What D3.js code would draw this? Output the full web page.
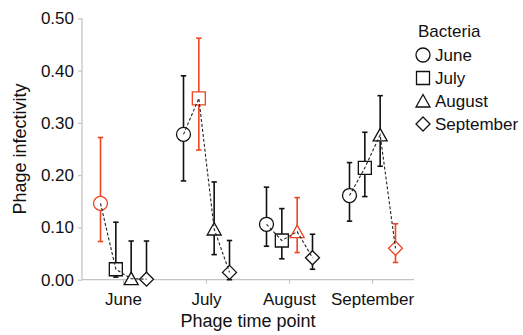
<!DOCTYPE html>
<html>
<head>
<meta charset="utf-8">
<script src="https://cdn.jsdelivr.net/npm/d3@7"></script>
<style>
  body { margin: 0; background: #fff; }
  svg text { font-family: "Liberation Sans", Arial, sans-serif; fill: #111; }
</style>
</head>
<body>
<div id="chart"></div>
<script>
// phage time points (x groups) and bacteria (series within a group)
var phageMonths = ["June", "July", "August", "September"];
var bacteria = ["June", "July", "August", "September"];
var yTicks = [0, 0.1, 0.2, 0.3, 0.4, 0.5];

// rows = phage time point, columns = bacteria
var meanValues = [
    [0.146, 0.020, 0.002, 0.001],
    [0.278, 0.347, 0.097, 0.014],
    [0.106, 0.075, 0.092, 0.042],
    [0.161, 0.214, 0.277, 0.060]
];
var upperValues = [
    [0.272, 0.110, 0.074, 0.074],
    [0.390, 0.462, 0.187, 0.075],
    [0.177, 0.136, 0.157, 0.087],
    [0.224, 0.282, 0.352, 0.107]
];
var lowerValues = [
    [0.073, 0.005, 0.000, 0.000],
    [0.189, 0.248, 0.048, 0.000],
    [0.064, 0.040, 0.052, 0.020],
    [0.112, 0.159, 0.217, 0.033]
];

function chart() {
    var w = 523, h = 335;
    var left = 82, right = 414, top = 18.3, bottom = 279.7;
    var red = "#ee4422", axisGrey = "#c4c4c4";

    var svg = d3.select("#chart").append("svg").attr("width", w).attr("height", h);

    var xScale = d3.scaleBand().domain(phageMonths).range([left, right]);
    var offset = d3.scalePoint().domain(bacteria).range([-23, 23]);
    var yScale = d3.scaleLinear().domain([0, 0.5]).range([bottom, top]);

    // marker shapes, centred on 0,0
    function shape(name) {
        if (name == "June") return "M7,0A7,7 0 1,1 -7,0A7,7 0 1,1 7,0Z";
        if (name == "July") return "M-6.5,-6.5H6.5V6.5H-6.5Z";
        if (name == "August") return "M0,-6.5L7,6L-7,6Z";
        return "M0,-7L7,0L0,7L-7,0Z";
    }

    // axes
    var yAxis = d3.axisLeft(yScale).tickValues(yTicks).tickSize(4).tickPadding(4)
        .tickFormat(d3.format(".2f"));
    var gy = svg.append("g").attr("transform", "translate(" + left + ",0)").call(yAxis);
    var xAxis = d3.axisBottom(xScale).tickSize(4).tickPadding(9);
    var gx = svg.append("g").attr("transform", "translate(0," + bottom + ")").call(xAxis);

    svg.selectAll(".domain").attr("stroke", axisGrey).attr("stroke-width", 1.3);
    svg.selectAll(".tick line").attr("stroke", axisGrey).attr("stroke-width", 1.2);
    svg.selectAll(".tick text").attr("font-size", "17px").attr("fill", "#111")
        .attr("font-family", "Liberation Sans, Arial, sans-serif");
    gx.select(".domain").attr("d", "M" + left + ",0H" + right);
    gy.select(".domain").attr("d", "M0," + top + "V" + bottom);

    // flatten data
    var points = [];
    for (var i = 0; i < phageMonths.length; i++) {
        for (var j = 0; j < bacteria.length; j++) {
            points.push({
                phage: phageMonths[i], bact: bacteria[j],
                mean: meanValues[i][j], hi: upperValues[i][j], lo: lowerValues[i][j],
                col: i == j ? red : "#111"
            });
        }
    }
    function px(d) { return xScale(d.phage) + xScale.bandwidth() / 2 + offset(d.bact); }

    // error bars
    var eb = svg.append("g").selectAll("g").data(points).enter().append("g")
        .attr("stroke", function (d) { return d.col; })
        .attr("stroke-width", 1.6);
    eb.append("line")
        .attr("x1", px).attr("x2", px)
        .attr("y1", function (d) { return yScale(d.hi); })
        .attr("y2", function (d) { return yScale(d.lo); });
    eb.append("line")
        .attr("x1", function (d) { return px(d) - 2.7; })
        .attr("x2", function (d) { return px(d) + 2.7; })
        .attr("y1", function (d) { return yScale(d.hi); })
        .attr("y2", function (d) { return yScale(d.hi); });
    eb.append("line")
        .attr("x1", function (d) { return px(d) - 2.7; })
        .attr("x2", function (d) { return px(d) + 2.7; })
        .attr("y1", function (d) { return yScale(d.lo); })
        .attr("y2", function (d) { return yScale(d.lo); });

    // markers
    svg.append("g").selectAll("path").data(points).enter().append("path")
        .attr("d", function (d) { return shape(d.bact); })
        .attr("transform", function (d) { return "translate(" + px(d) + "," + yScale(d.mean) + ")"; })
        .attr("fill", "#fff")
        .attr("stroke", function (d) { return d.col; })
        .attr("stroke-width", 1.3);

    // dashed connecting lines per phage time point
    var line = d3.line().x(px).y(function (d) { return yScale(d.mean); });
    svg.append("g").selectAll("path").data(phageMonths).enter().append("path")
        .attr("d", function (m) {
            return line(points.filter(function (p) { return p.phage == m; }));
        })
        .attr("fill", "none")
        .attr("stroke", "#222")
        .attr("stroke-width", 1.1)
        .attr("stroke-dasharray", "3,2");

    // axis titles
    svg.append("text").attr("x", (left + right) / 2).attr("y", 327)
        .attr("text-anchor", "middle").attr("font-size", "18px").text("Phage time point");
    svg.append("text")
        .attr("transform", "translate(26," + (top + bottom) / 2 + ") rotate(-90)")
        .attr("text-anchor", "middle").attr("font-size", "18px").text("Phage infectivity");

    // legend
    var legend = svg.append("g");
    legend.append("text").attr("x", 418).attr("y", 37).attr("font-size", "17px").text("Bacteria");
    var items = legend.selectAll("g.item").data(bacteria).enter().append("g")
        .attr("transform", function (d, i) { return "translate(423," + (55 + i * 23) + ")"; });
    items.append("path").attr("d", shape)
        .attr("fill", "#fff").attr("stroke", "#111").attr("stroke-width", 1.3);
    items.append("text").attr("x", 12).attr("y", 6).attr("font-size", "17px")
        .text(function (d) { return d; });
}

chart();
</script>
</body>
</html>
